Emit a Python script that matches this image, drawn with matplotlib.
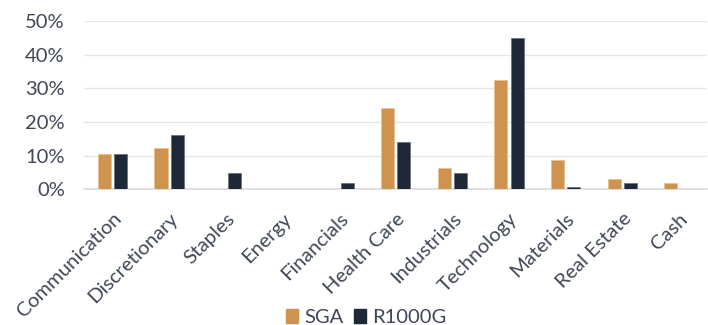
import numpy as np
import matplotlib.pyplot as plt
from matplotlib.patches import Patch

categories = ['Communication', 'Discretionary', 'Staples', 'Energy', 'Financials',
              'Health Care', 'Industrials', 'Technology', 'Materials', 'Real Estate', 'Cash']
sga = [10.5, 12.2, 0.0, 0.0, 0.0, 24.0, 6.4, 32.5, 8.7, 3.1, 1.7]
r1000g = [10.5, 16.2, 4.7, 0.0, 1.9, 13.9, 4.7, 45.0, 0.7, 1.7, 0.0]

gold = '#CF934F'
navy = '#1E2836'
text_col = '#404855'

plt.rcParams['font.family'] = ['Lato', 'DejaVu Sans']

fig = plt.figure(figsize=(7.08, 3.25), dpi=100)
ax = fig.add_axes([0.119, 0.418, 0.880, 0.517])

x = np.arange(len(categories))
w = 0.23
ax.bar(x - 0.145, sga, w, color=gold, edgecolor='#E8C08F', linewidth=0.6, zorder=3)
ax.bar(x + 0.145, r1000g, w, color=navy, edgecolor='#6B7380', linewidth=0.6, zorder=3)

ax.set_xlim(-0.5, len(categories) - 0.5)
ax.set_ylim(0, 50)
ax.set_yticks([0, 10, 20, 30, 40, 50])
ax.set_yticklabels([f'{v}%' for v in [0, 10, 20, 30, 40, 50]])
ax.yaxis.grid(True, color='#E6E6E6', linewidth=1.0, zorder=0)
ax.set_xticks(x)
ax.set_xticklabels(categories, rotation=45, ha='right', rotation_mode='anchor')

for s in ['top', 'right', 'left']:
    ax.spines[s].set_visible(False)
ax.spines['bottom'].set_color('#DADADA')
ax.spines['bottom'].set_linewidth(1.2)
ax.tick_params(axis='both', length=0, labelsize=14.5, colors=text_col)
ax.tick_params(axis='y', pad=14)
ax.tick_params(axis='x', pad=15)

handles = [Patch(color=gold, label='SGA'), Patch(color=navy, label='R1000G')]
fig.legend(handles=handles, loc='lower center', bbox_to_anchor=(0.517, -0.06), ncol=2,
           frameon=False, fontsize=14.5, handlelength=0.6, handleheight=0.7,
           handletextpad=0.3, columnspacing=0.5, labelcolor=text_col)

fig.savefig('out.png', dpi=100, facecolor='white')
